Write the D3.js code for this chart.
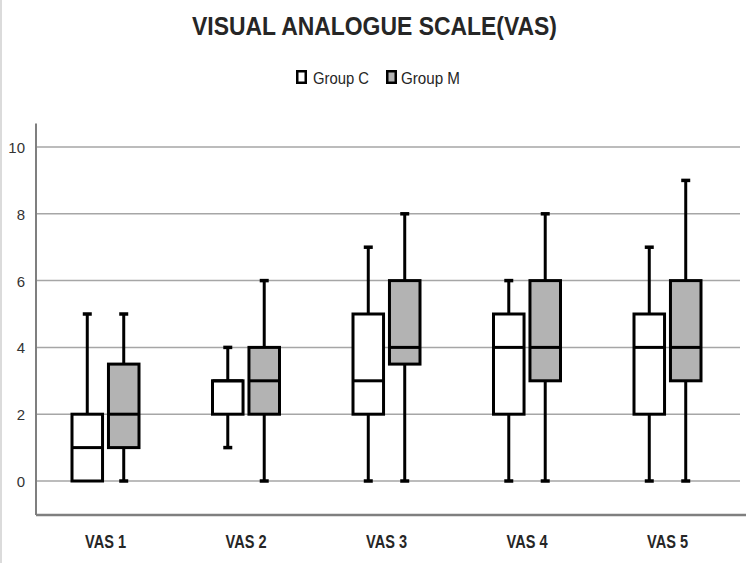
<!DOCTYPE html>
<html>
<head>
<meta charset="utf-8">
<script src="https://cdn.jsdelivr.net/npm/d3@7"></script>
<style>
  html, body { margin: 0; padding: 0; background: #fff; }
  svg { display: block; }
  .narrow { font-family: "Liberation Sans Narrow", "Arial Narrow", "Liberation Sans", sans-serif; }
</style>
</head>
<body>
<svg id="chart" width="750" height="563"></svg>
<script>
// ---- data ----
const categories = ["VAS 1", "VAS 2", "VAS 3", "VAS 4", "VAS 5"];
const seriesNames = ["Group C", "Group M"];
const seriesFills = ["#ffffff", "#b3b3b3"];
// five-number summaries per category: [min, q1, median, q3, max]
const groupC = [
  [0, 0, 1, 2, 5],
  [1, 2, 3, 3, 4],
  [0, 2, 3, 5, 7],
  [0, 2, 4, 5, 6],
  [0, 2, 4, 5, 7]
];
const groupM = [
  [0, 1, 2, 3.5, 5],
  [0, 2, 3, 4, 6],
  [0, 3.5, 4, 6, 8],
  [0, 3, 4, 6, 8],
  [0, 3, 4, 6, 9]
];
const yTicks = [0, 2, 4, 6, 8, 10];
const title = "VISUAL ANALOGUE SCALE(VAS)";

// ---- layout ----
const svg = d3.select("#chart");
const W = 750, H = 563;
const left = 36, right = 740;

const y = d3.scaleLinear().domain([0, 10]).range([481, 147]);
const x = d3.scaleBand().domain(categories).range([35.25, 737.75]).padding(0);
const sub = d3.scaleBand().domain(seriesNames).range([-35, 35]).paddingInner(0.08).paddingOuter(0);

// chart border (left edge)
svg.append("line").attr("x1", 1).attr("x2", 1).attr("y1", 0).attr("y2", H)
  .attr("stroke", "#cfcfcf").attr("stroke-width", 1.5);

// title
svg.append("text").attr("class", "narrow")
  .attr("x", 192).attr("y", 35)
  .attr("text-anchor", "start")
  .attr("font-size", 25).attr("font-weight", "bold")
  .attr("textLength", 365).attr("lengthAdjust", "spacingAndGlyphs")
  .attr("fill", "#262626")
  .text(title);

// legend
const legendItems = [
  { name: seriesNames[0], fill: seriesFills[0], x: 296, tx: 313, tw: 56 },
  { name: seriesNames[1], fill: seriesFills[1], x: 386, tx: 401, tw: 59 }
];
const lg = svg.append("g");
legendItems.forEach(d => {
  lg.append("rect").attr("x", d.x + 1.25).attr("y", 71.25).attr("width", 8.5).attr("height", 11.5)
    .attr("fill", d.fill).attr("stroke", "#000").attr("stroke-width", 2.5);
  lg.append("text").attr("class", "narrow")
    .attr("x", d.tx).attr("y", 84)
    .attr("font-size", 16).attr("fill", "#262626")
    .attr("textLength", d.tw).attr("lengthAdjust", "spacingAndGlyphs")
    .text(d.name);
});

// gridlines
svg.append("g").selectAll("line").data(yTicks).join("line")
  .attr("x1", left).attr("x2", right)
  .attr("y1", d => y(d)).attr("y2", d => y(d))
  .attr("stroke", "#a6a6a6").attr("stroke-width", 1.5);

// y axis
const yAxis = d3.axisLeft(y).tickValues(yTicks).tickSize(0).tickPadding(11);
const yg = svg.append("g").attr("transform", `translate(${left},0)`).call(yAxis);
yg.select(".domain").remove();
yg.selectAll("text").attr("class", "narrow").attr("font-size", 15).attr("fill", "#333")
  .attr("dy", "0.36em");

// axis lines
svg.append("line").attr("x1", left).attr("x2", left).attr("y1", y(10.7)).attr("y2", y(-1.02))
  .attr("stroke", "#7f7f7f").attr("stroke-width", 2);
svg.append("line").attr("x1", left).attr("x2", 746).attr("y1", y(-1.02)).attr("y2", y(-1.02))
  .attr("stroke", "#7f7f7f").attr("stroke-width", 2.5);

// x axis labels
const xAxis = d3.axisBottom(x).tickSize(0).tickPadding(0);
const xg = svg.append("g").attr("transform", `translate(0,548)`).call(xAxis);
xg.select(".domain").remove();
xg.selectAll("text").attr("class", "narrow").attr("font-size", 18).attr("font-weight", "bold")
  .attr("fill", "#262626").attr("dy", 0)
  .attr("textLength", 41).attr("lengthAdjust", "spacingAndGlyphs");

// boxes
const series = [groupC, groupM];
const boxW = sub.bandwidth();
series.forEach((vals, si) => {
  const g = svg.append("g");
  vals.forEach((s, ci) => {
    const cx = x(categories[ci]) + x.bandwidth() / 2 + sub(seriesNames[si]) + boxW / 2;
    const [mn, q1, md, q3, mx] = s;
    const capW = 9;
    // whiskers
    if (mx > q3) {
      g.append("line").attr("x1", cx).attr("x2", cx).attr("y1", y(q3)).attr("y2", y(mx))
        .attr("stroke", "#000").attr("stroke-width", 3);
      g.append("line").attr("x1", cx - capW / 2).attr("x2", cx + capW / 2).attr("y1", y(mx)).attr("y2", y(mx))
        .attr("stroke", "#000").attr("stroke-width", 3.5);
    }
    if (mn < q1) {
      g.append("line").attr("x1", cx).attr("x2", cx).attr("y1", y(q1)).attr("y2", y(mn))
        .attr("stroke", "#000").attr("stroke-width", 3);
      g.append("line").attr("x1", cx - capW / 2).attr("x2", cx + capW / 2).attr("y1", y(mn)).attr("y2", y(mn))
        .attr("stroke", "#000").attr("stroke-width", 3.5);
    }
    // box
    g.append("rect")
      .attr("x", cx - boxW / 2 + 1.5).attr("width", boxW - 3)
      .attr("y", y(q3)).attr("height", Math.max(0, y(q1) - y(q3)))
      .attr("fill", seriesFills[si]).attr("stroke", "#000").attr("stroke-width", 3);
    // median
    g.append("line").attr("x1", cx - boxW / 2 + 1.5).attr("x2", cx + boxW / 2 - 1.5)
      .attr("y1", y(md)).attr("y2", y(md))
      .attr("stroke", "#000").attr("stroke-width", 3);
  });
});
</script>
</body>
</html>
